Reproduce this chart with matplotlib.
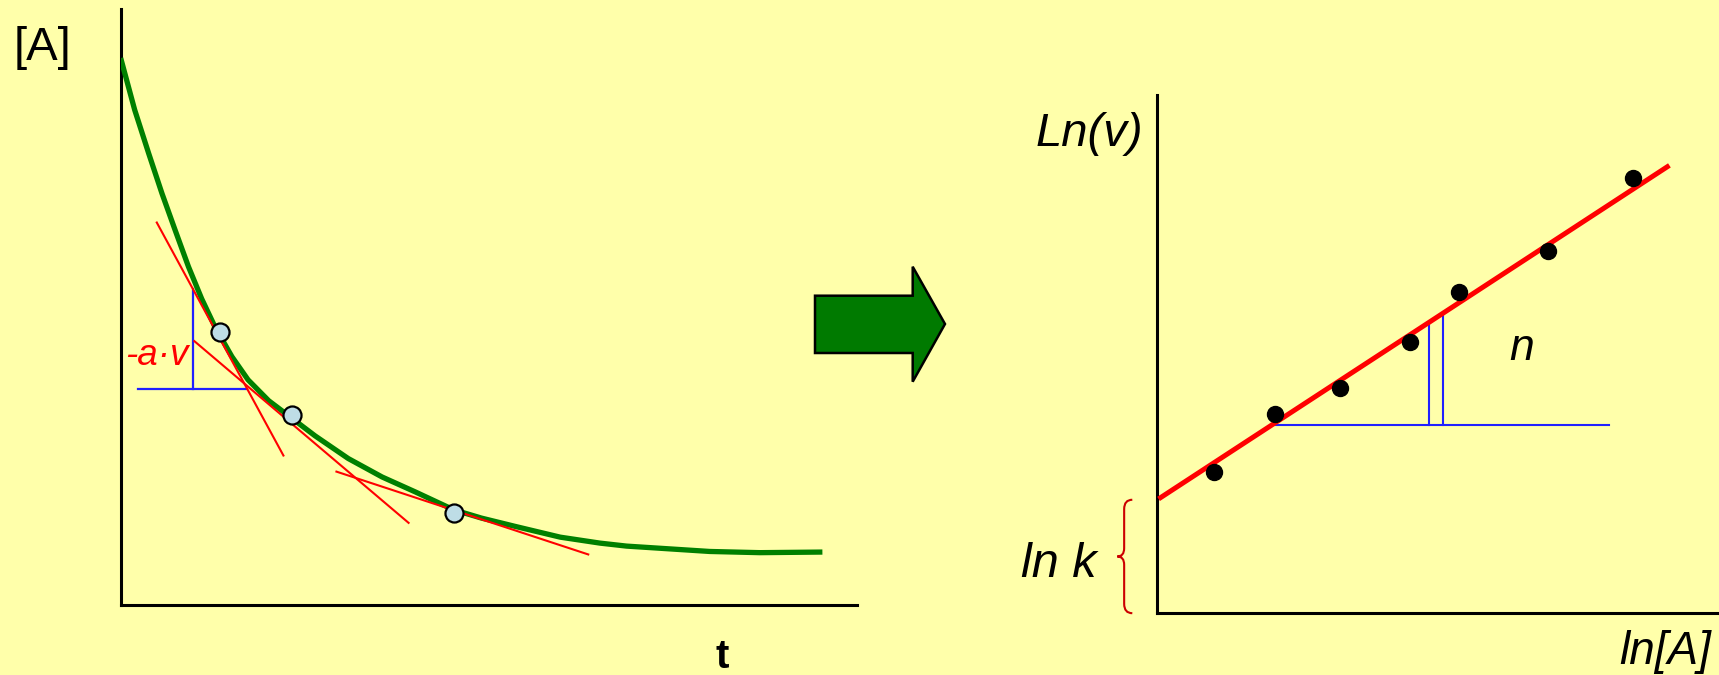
import matplotlib
matplotlib.use("Agg")
import matplotlib.pyplot as plt
from matplotlib.path import Path
from matplotlib.patches import PathPatch, Polygon

plt.rcParams['font.family'] = ['Liberation Sans', 'DejaVu Sans']

#---- Data: concentration vs time ---------------------------------------------#

t_curve = [0.0, 0.19, 0.38, 0.56, 0.74, 0.92, 1.10, 1.28, 1.51, 1.73, 2.01,
           2.32, 2.64, 3.09, 3.55, 4.00, 4.52, 4.90, 5.36, 5.97, 6.51, 6.87,
           8.00, 8.68, 9.53]
A_curve = [9.17, 8.30, 7.57, 6.90, 6.28, 5.67, 5.13, 4.66, 4.16, 3.77, 3.42,
           3.13, 2.83, 2.45, 2.14, 1.89, 1.59, 1.45, 1.31, 1.13, 1.03, 0.98,
           0.89, 0.87, 0.88]

t_points = [1.35, 2.32, 4.52]               # points where the slope is taken
A_points = [4.58, 3.18, 1.53]

# tangent segments, (t0, t1) and (A0, A1)
tangent_t = [(0.49, 2.21), (1.00, 3.91), (2.93, 6.35)]
tangent_A = [(6.41, 2.50), (4.42, 1.37), (2.23, 0.84)]

# slope triangle
tri_t = 0.98
tri_A = (3.62, 5.29)
tri_h = (0.24, 1.71)

#---- Data: ln v vs ln[A] -----------------------------------------------------#

lnA = [1.01, 2.10, 3.26, 4.49, 5.38, 6.96, 8.47]
lnv = [2.73, 3.85, 4.35, 5.24, 6.21, 7.00, 8.41]

ln_k = 2.19          # intercept
order_n = 0.708      # slope
fit_range = (0.06, 9.08)

step_y = 3.63
step_h = (2.10, 8.05)
step_v = [4.84, 5.08]

#---- Figure ------------------------------------------------------------------#

W, H = 1719, 675
bg = '#FFFFAA'
fig = plt.figure(figsize=(W / 100, H / 100), dpi=100, facecolor=bg)


def frame(ax):
    ax.set_facecolor('none')
    for s in ['top', 'right']:
        ax.spines[s].set_visible(False)
    for s in ['left', 'bottom']:
        ax.spines[s].set_linewidth(2.2)
        ax.spines[s].set_color('black')
    ax.set_xticks([])
    ax.set_yticks([])
    ax.set_xlim(0, 10)
    ax.set_ylim(0, 10)


# left panel
ax1 = fig.add_axes([120.7 / W, 1 - 604.5 / H, (857 - 120.7) / W, (604.5 - 8.6) / H])
frame(ax1)

ax1.plot(t_curve, A_curve, color='#008000', lw=3.8, solid_capstyle='butt',
         solid_joinstyle='round', zorder=3)
for tt, aa in zip(tangent_t, tangent_A):
    ax1.plot(tt, aa, color='red', lw=1.5, zorder=4)
ax1.plot([tri_t, tri_t], tri_A, color='#2020FF', lw=1.6, zorder=2)
ax1.plot(tri_h, [tri_A[0], tri_A[0]], color='#2020FF', lw=1.6, zorder=2)
ax1.plot(t_points, A_points, 'o', ms=13, mfc='#BEDDE6', mec='black', mew=1.6,
         zorder=5)
ax1.text(0.92, 4.02, '-a\u00b7v', color='red', fontsize=26.5, style='italic',
         ha='right', va='baseline')

fig.text(14 / W, 1 - 60 / H, '[A]', fontsize=34, ha='left', va='baseline')
fig.text(721.7 / W, 1 - 668 / H, 't', fontsize=29, fontweight='bold',
         ha='center', va='baseline')

# arrow between panels
arrow_x = [815, 912.7, 912.7, 945, 912.7, 912.7, 815]
arrow_y = [295.7, 295.7, 266.7, 324, 381.7, 353, 353]
arrow = Polygon([(x / W, 1 - y / H) for x, y in zip(arrow_x, arrow_y)],
                closed=True, transform=fig.transFigure, facecolor='#007A00',
                edgecolor='black', lw=1.8)
fig.patches.append(arrow)

# right panel
ax2 = fig.add_axes([1157.3 / W, 1 - 613.2 / H, (W - 1157.3) / W, (613.2 - 95.2) / H])
frame(ax2)

fx = list(fit_range)
ax2.plot(fx, [ln_k + order_n * x for x in fx], color='red', lw=3.6, zorder=3)
ax2.plot(step_h, [step_y, step_y], color='#2020FF', lw=1.5, zorder=2)
for x in step_v:
    ax2.plot([x, x], [step_y, ln_k + order_n * x], color='#2020FF', lw=1.5,
             zorder=2)
ax2.plot(lnA, lnv, 'o', color='black', ms=11.5, zorder=4)

# brace marking the intercept
bx0, bx1, btip = -0.445, -0.59, -0.712
ymid = ln_k / 2
verts = [(bx0, ln_k), (bx1, ln_k), (bx1, ln_k - 0.18),
         (bx1, ymid + 0.16), (bx1, ymid), (btip, ymid),
         (bx1, ymid), (bx1, ymid - 0.16),
         (bx1, 0.18), (bx1, 0.0), (bx0, 0.0)]
codes = [Path.MOVETO, Path.CURVE3, Path.CURVE3,
         Path.LINETO, Path.CURVE3, Path.CURVE3,
         Path.CURVE3, Path.CURVE3,
         Path.LINETO, Path.CURVE3, Path.CURVE3]
ax2.add_patch(PathPatch(Path(verts, codes), facecolor='none', edgecolor='#CC0000',
                        lw=1.5, clip_on=False))

ax2.text(-1.207, 9.01, 'Ln(v)', fontsize=34, style='italic', ha='center',
         va='baseline', clip_on=False)
ax2.text(-1.76, 0.70, 'ln k', fontsize=35, style='italic', ha='center',
         va='baseline', clip_on=False)
ax2.text(9.04, -0.99, 'ln[A]', fontsize=33, style='italic', ha='center',
         va='baseline', clip_on=False)
ax2.text(6.49, 4.89, 'n', fontsize=32, style='italic', ha='center',
         va='baseline')

fig.savefig('out.png', dpi=100, facecolor=bg)
